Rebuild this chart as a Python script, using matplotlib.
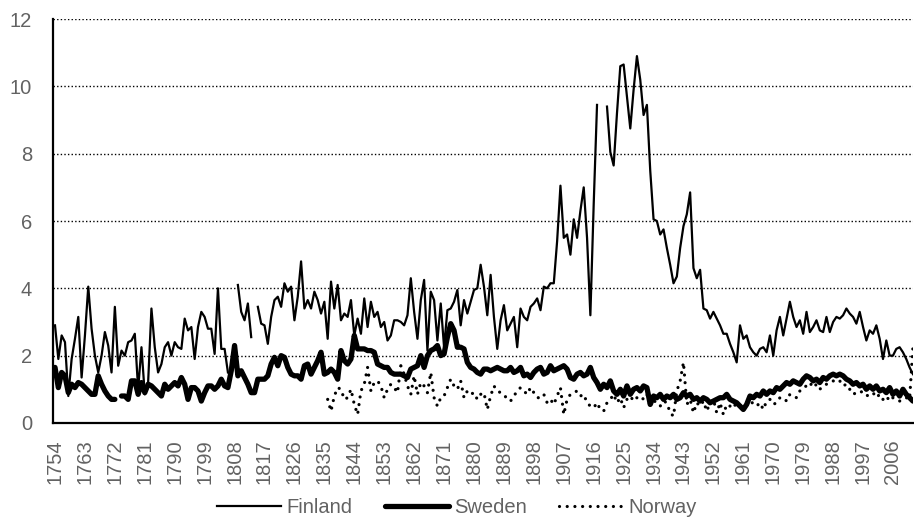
import numpy as np
import matplotlib
matplotlib.use("Agg")
import matplotlib.pyplot as plt

plt.rcParams['font.family'] = ['Liberation Sans', 'DejaVu Sans']

nan = np.nan
years = list(range(1754, 2013))

finland = [
    2.9, 1.9, 2.6, 2.4, 0.8, 1.9, 2.5, 3.15, 1.35, 2.6,          # 1754-1763
    4.05, 2.8, 2.0, 1.5, 2.0, 2.7, 2.3, 1.5, 3.45, 1.7,          # 1764-1773
    2.15, 2.0, 2.4, 2.45, 2.65, 1.0, 2.25, 0.85, 1.2, 3.4,       # 1774-1783
    2.25, 1.5, 1.75, 2.25, 2.4, 2.0, 2.4, 2.25, 2.2, 3.1,        # 1784-1793
    2.75, 2.85, 1.9, 2.85, 3.3, 3.15, 2.8, 2.8, 2.05, 4.0,       # 1794-1803
    2.2, 2.2, 1.5, nan, nan, 4.1, 3.3, 3.05, 3.55, 2.55,         # 1804-1813
    nan, 3.45, 2.95, 2.9, 2.35, 3.15, 3.65, 3.75, 3.45, 4.15,    # 1814-1823
    3.9, 4.05, 3.05, 3.75, 4.8, 3.4, 3.65, 3.4, 3.9, 3.65,       # 1824-1833
    3.25, 3.6, 2.5, 4.2, 3.4, 4.1, 3.05, 3.25, 3.15, 3.65,       # 1834-1843
    2.6, 3.1, 2.65, 3.7, 2.85, 3.6, 3.15, 3.3, 2.85, 3.0,        # 1844-1853
    2.45, 2.6, 3.05, 3.05, 3.0, 2.9, 3.2, 4.3, 3.3, 2.5,         # 1854-1863
    3.65, 4.25, 2.15, 3.9, 3.65, 2.45, 3.55, 2.25, 3.35, 3.4,    # 1864-1873
    3.6, 3.95, 2.9, 3.65, 3.25, 3.6, 3.95, 4.0, 4.7, 4.05,       # 1874-1883
    3.2, 4.4, 3.15, 2.2, 3.05, 3.5, 2.75, 2.95, 3.15, 2.25,      # 1884-1893
    3.4, 3.15, 3.05, 3.45, 3.55, 3.7, 3.35, 4.05, 4.0, 4.15,     # 1894-1903
    4.15, 5.4, 7.05, 5.5, 5.6, 5.0, 6.05, 5.5, 6.3, 7.0,         # 1904-1913
    5.5, 3.2, 6.5, 9.45, nan, nan, 9.4, 8.05, 7.65, 9.2,         # 1914-1923
    10.6, 10.65, 9.7, 8.75, 9.9, 10.9, 10.2, 9.15, 9.45, 7.5,    # 1924-1933
    6.05, 6.0, 5.6, 5.75, 5.2, 4.7, 4.15, 4.35, 5.2, 5.85,       # 1934-1943
    6.2, 6.85, 4.6, 4.3, 4.55, 3.4, 3.35, 3.1, 3.3, 3.1,         # 1944-1953
    2.9, 2.65, 2.65, 2.35, 2.1, 1.8, 2.9, 2.5, 2.6, 2.25,        # 1954-1963
    2.1, 2.0, 2.2, 2.25, 2.1, 2.6, 2.0, 2.75, 3.15, 2.6,         # 1964-1973
    3.1, 3.6, 3.15, 2.85, 3.05, 2.65, 3.3, 2.7, 2.85, 3.05,      # 1974-1983
    2.75, 2.7, 3.15, 2.7, 3.0, 3.15, 3.1, 3.2, 3.4, 3.25,        # 1984-1993
    3.15, 2.95, 3.3, 2.85, 2.45, 2.75, 2.65, 2.9, 2.5, 1.9,      # 1994-2003
    2.45, 2.0, 2.0, 2.2, 2.25, 2.1, 1.9, 1.65, 1.45,             # 2004-2012
]

sweden = [
    1.65, 1.05, 1.5, 1.4, 0.9, 1.15, 1.05, 1.2, 1.15, 1.05,      # 1754-1763
    0.95, 0.85, 0.85, 1.4, 1.15, 0.95, 0.8, 0.7, 0.7, nan,       # 1764-1773
    0.8, 0.8, 0.7, 1.25, 1.25, 0.85, 1.2, 0.9, 1.15, 1.1,        # 1774-1783
    1.0, 0.9, 0.8, 1.15, 1.0, 1.1, 1.2, 1.1, 1.35, 1.15,         # 1784-1793
    0.7, 1.05, 1.05, 0.95, 0.65, 0.9, 1.1, 1.1, 1.0, 1.1,        # 1794-1803
    1.3, 1.1, 1.05, 1.55, 2.3, 1.4, 1.55, 1.35, 1.15, 0.9,       # 1804-1813
    0.9, 1.3, 1.3, 1.3, 1.4, 1.75, 1.95, 1.7, 2.0, 1.95,         # 1814-1823
    1.65, 1.45, 1.4, 1.4, 1.3, 1.7, 1.75, 1.45, 1.65, 1.85,      # 1824-1833
    2.1, 1.45, 1.5, 1.6, 1.5, 1.3, 2.15, 1.85, 1.75, 1.9,        # 1834-1843
    2.6, 2.2, 2.2, 2.2, 2.15, 2.15, 2.1, 1.75, 1.7, 1.65,        # 1844-1853
    1.65, 1.5, 1.45, 1.45, 1.45, 1.4, 1.35, 1.6, 1.65, 1.7,      # 1854-1863
    2.0, 1.65, 2.0, 2.15, 2.2, 2.3, 2.0, 2.05, 2.55, 2.95,       # 1864-1873
    2.75, 2.25, 2.25, 2.2, 1.8, 1.65, 1.6, 1.5, 1.45, 1.6,       # 1874-1883
    1.6, 1.55, 1.6, 1.65, 1.6, 1.55, 1.55, 1.65, 1.5, 1.55,      # 1884-1893
    1.65, 1.4, 1.45, 1.35, 1.5, 1.6, 1.65, 1.45, 1.5, 1.7,       # 1894-1903
    1.55, 1.6, 1.65, 1.7, 1.6, 1.35, 1.3, 1.45, 1.5, 1.4,        # 1904-1913
    1.45, 1.65, 1.35, 1.2, 1.0, 1.15, 1.05, 1.25, 0.95, 0.85,    # 1914-1923
    1.0, 0.8, 1.1, 0.85, 1.0, 1.05, 0.95, 1.1, 1.05, 0.55,       # 1924-1933
    0.8, 0.75, 0.85, 0.7, 0.8, 0.75, 0.85, 0.7, 0.75, 0.9,       # 1934-1943
    0.8, 0.85, 0.7, 0.75, 0.65, 0.75, 0.7, 0.6, 0.65, 0.7,       # 1944-1953
    0.75, 0.75, 0.85, 0.7, 0.65, 0.6, 0.5, 0.4, 0.55, 0.8,       # 1954-1963
    0.75, 0.85, 0.8, 0.95, 0.85, 0.95, 0.9, 1.05, 1.0, 1.1,      # 1964-1973
    1.2, 1.15, 1.25, 1.2, 1.15, 1.3, 1.4, 1.35, 1.25, 1.3,       # 1974-1983
    1.2, 1.35, 1.3, 1.4, 1.45, 1.4, 1.45, 1.4, 1.3, 1.25,        # 1984-1993
    1.15, 1.2, 1.1, 1.15, 1.0, 1.1, 1.0, 1.1, 0.95, 1.0,         # 1994-2003
    0.9, 1.05, 0.85, 0.95, 0.8, 1.0, 0.85, 0.75, 0.65,           # 2004-2012
]

norway = [nan] * 82 + [                                          # 1754-1835 missing
    0.7, 0.35, 0.8, 1.05, 1.0, 0.7, 0.75, 1.0,                   # 1836-1843
    0.55, 0.25, 0.95, 1.15, 1.65, 0.95, 1.2, 1.25, 1.1, 0.75,    # 1844-1853
    1.0, 1.15, 1.05, 0.9, 1.7, 1.45, 1.1, 0.85, 1.4, 0.85,       # 1854-1863
    1.2, 1.1, 0.9, 1.5, 0.75, 0.5, 0.75, 0.8, 1.05, 1.3,         # 1864-1873
    1.1, 1.0, 1.25, 0.75, 0.95, 0.85, 0.9, 0.7, 0.85, 0.9,       # 1874-1883
    0.4, 0.8, 1.1, 0.95, 0.9, 0.85, 0.7, 0.65, 0.8, 0.95,        # 1884-1893
    1.05, 0.95, 0.85, 1.05, 0.9, 0.75, 0.75, 0.85, 0.6, 0.7,     # 1894-1903
    0.55, 0.8, 1.05, 0.25, 0.7, 0.85, 0.9, 0.95, 0.8, 0.85,      # 1904-1913
    0.6, 0.5, 0.45, 0.6, 0.4, 0.35, 0.6, 0.7, 0.85, 0.6,         # 1914-1923
    0.75, 0.45, 0.7, 0.8, 0.65, 0.75, 0.8, 0.7, 0.85, 0.6,       # 1924-1933
    0.7, 0.55, 0.5, 0.65, 0.6, 0.3, 0.2, 0.95, 1.25, 1.8,        # 1934-1943
    0.55, 0.7, 0.3, 0.6, 0.5, 0.65, 0.35, 0.6, 0.7, 0.3,         # 1944-1953
    0.6, 0.25, 0.55, 0.5, 0.6, 0.45, 0.5, 0.55, 0.6, 0.7,        # 1954-1963
    0.55, 0.5, 0.6, 0.4, 0.65, 0.7, 0.55, 0.6, 0.75, 0.75,       # 1964-1973
    0.65, 0.85, 0.8, 0.75, 0.95, 1.05, 1.1, 1.2, 1.05, 1.15,     # 1974-1983
    1.0, 1.1, 1.15, 1.2, 1.25, 1.2, 1.25, 1.1, 1.15, 1.0,        # 1984-1993
    0.85, 0.9, 0.95, 0.9, 0.8, 0.85, 0.9, 0.75, 0.85, 0.7,       # 1994-2003
    0.8, 0.65, 0.75, 0.7, 0.65, 0.7, 0.75, 0.7, 2.25,            # 2004-2012
]

tick_years = list(range(1754, 2013, 9))
text_gray = '#626262'

fig = plt.figure(figsize=(9.14, 5.30), dpi=100)
ax = fig.add_axes([0.058, 0.202, 0.941, 0.762])

ax.plot(years, finland, color='black', lw=1.6, label='Finland', solid_joinstyle='round')
ax.plot(years, sweden, color='black', lw=3.8, label='Sweden', solid_joinstyle='round',
        solid_capstyle='round')
ax.plot(years, norway, color='black', lw=2.3, linestyle=(0, (0.01, 2.4)),
        dash_capstyle='round', label='Norway')

ax.set_xlim(1753.4, 2012.05)
ax.set_ylim(0, 12)
ax.set_yticks(range(0, 13, 2))
ax.set_xticks(tick_years)
ax.set_xticklabels([str(y) for y in tick_years], rotation=90)

# dotted horizontal gridlines like the Excel original
ax.yaxis.grid(True, color='black', lw=1.0, linestyle=(0, (1, 1.6)))
ax.set_axisbelow(True)

for s in ['top', 'right']:
    ax.spines[s].set_visible(False)
for s in ['left', 'bottom']:
    ax.spines[s].set_linewidth(1.6)

ax.tick_params(axis='y', length=0, pad=15, labelsize=14.5, labelcolor=text_gray)
ax.tick_params(axis='x', length=0, pad=12, labelsize=14.5, labelcolor=text_gray)

leg = fig.legend(loc='lower center', bbox_to_anchor=(0.5, -0.01), ncol=3, frameon=False,
                 fontsize=14.5, handlelength=3.2, handletextpad=0.25, columnspacing=1.6)
for t in leg.get_texts():
    t.set_color(text_gray)

fig.savefig('out.png', dpi=100)
